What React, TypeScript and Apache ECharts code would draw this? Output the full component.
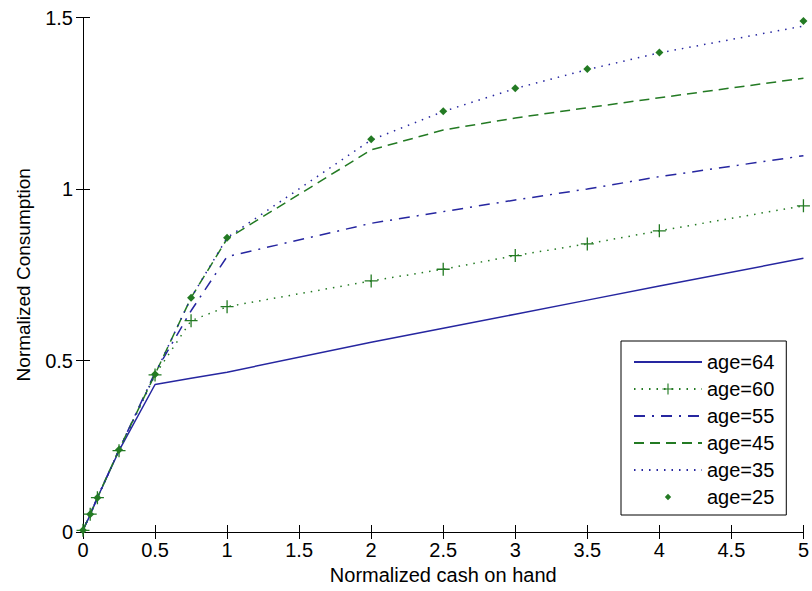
import React, { useEffect, useRef } from "react";
import * as echarts from "echarts";

const cashOnHand = [0, 0.05, 0.1, 0.25, 0.5, 0.75, 1, 2, 2.5, 3, 3.5, 4, 5];
const age64 = [0.005, 0.05, 0.1, 0.237, 0.43, 0.448, 0.466, 0.553, 0.594, 0.635, 0.676, 0.717, 0.798];
const age60 = [0.005, 0.052, 0.1, 0.237, 0.458, 0.616, 0.657, 0.732, 0.766, 0.806, 0.84, 0.878, 0.951];
const age55 = [0.005, 0.052, 0.1, 0.24, 0.465, 0.645, 0.803, 0.9, 0.934, 0.968, 1.0, 1.036, 1.097];
const age45 = [0.005, 0.052, 0.1, 0.24, 0.46, 0.683, 0.855, 1.114, 1.172, 1.207, 1.237, 1.266, 1.323];
const age35 = [0.005, 0.052, 0.1, 0.24, 0.46, 0.683, 0.858, 1.143, 1.226, 1.293, 1.348, 1.397, 1.475];
const age25 = [0.005, 0.052, 0.1, 0.24, 0.46, 0.683, 0.858, 1.145, 1.227, 1.294, 1.35, 1.398, 1.49];
const seriesNames = ["age=64", "age=60", "age=55", "age=45", "age=35", "age=25"];

const BLUE = "#2626a0";
const GREEN = "#237a23";
const FONT = "'Liberation Sans', Arial, sans-serif";
const PLUS = "path://M9,0h2v9h9v2h-9v9h-2v-9h-9v-2h9z";
const DIAMOND = "path://M0,0M14,14M7,3L11,7L7,11L3,7Z";

const pairs = (ys: number[]) => cashOnHand.map((x, i) => [x, ys[i]]);

export default function App() {
  const ref = useRef<HTMLDivElement>(null);
  useEffect(() => {
    if (!ref.current) return;
    const chart = echarts.init(ref.current, undefined, { renderer: "svg" });
    const axisLine = { show: true, lineStyle: { color: "#000", width: 1 } };
    const tick = { show: true, inside: true, length: 7, lineStyle: { color: "#000" } };
    const base = {
      type: "line",
      showSymbol: false,
      symbol: "none",
      clip: false,
      xAxisIndex: 0,
      yAxisIndex: 0,
    };
    const hidden = { opacity: 0, color: "transparent", borderWidth: 0 };
    chart.setOption({
      animation: false,
      backgroundColor: "#fff",
      textStyle: { fontFamily: FONT },
      grid: { left: 83, right: 8, top: 17.5, bottom: 59, containLabel: false },
      xAxis: [
        {
          type: "value",
          position: "bottom",
          min: 0,
          max: 5,
          interval: 0.5,
          axisLine,
          axisTick: tick,
          splitLine: { show: false },
          axisLabel: { color: "#000", fontSize: 20, margin: 8, fontFamily: FONT },
          name: "Normalized cash on hand",
          nameLocation: "middle",
          nameGap: 26,
          nameTextStyle: { color: "#000", fontSize: 20, fontFamily: FONT },
        },
        {
          type: "value",
          position: "top",
          min: 0,
          max: 5,
          interval: 0.5,
          axisLine,
          axisTick: tick,
          splitLine: { show: false },
          axisLabel: { show: false },
        },
      ],
      yAxis: [
        {
          type: "value",
          position: "left",
          min: 0,
          max: 1.5,
          interval: 0.5,
          axisLine,
          axisTick: tick,
          splitLine: { show: false },
          axisLabel: { color: "#000", fontSize: 20, margin: 10, fontFamily: FONT },
          name: "Normalized Consumption",
          nameLocation: "middle",
          nameGap: 50,
          nameTextStyle: { color: "#000", fontSize: 19, fontFamily: FONT },
        },
        {
          type: "value",
          position: "right",
          min: 0,
          max: 1.5,
          interval: 0.5,
          axisLine,
          axisTick: tick,
          splitLine: { show: false },
          axisLabel: { show: false },
        },
      ],
      legend: {
        orient: "vertical",
        left: 621,
        top: 341,
        data: [
          { name: seriesNames[0], itemStyle: hidden },
          { name: seriesNames[1] },
          { name: seriesNames[2], itemStyle: hidden },
          { name: seriesNames[3], itemStyle: hidden },
          { name: seriesNames[4], itemStyle: hidden },
          { name: seriesNames[5], lineStyle: { opacity: 0, width: 0 } },
        ],
        itemWidth: 68,
        itemHeight: 14,
        itemGap: 7,
        padding: [11, 12, 8, 12],
        borderColor: "#000",
        borderWidth: 1,
        backgroundColor: "#fff",
        textStyle: { color: "#000", fontSize: 20, fontFamily: FONT },
        selectedMode: false,
      },
      series: [
        {
          ...base,
          name: seriesNames[0],
          data: pairs(age64),
          itemStyle: { color: BLUE },
          lineStyle: { color: BLUE, width: 1.5, type: "solid" },
        },
        {
          ...base,
          name: seriesNames[1],
          data: pairs(age60),
          showSymbol: true,
          symbol: PLUS,
          symbolSize: 13,
          itemStyle: { color: GREEN },
          lineStyle: { color: GREEN, width: 1.5, type: [1.5, 6] },
        },
        {
          ...base,
          name: seriesNames[2],
          data: pairs(age55),
          itemStyle: { color: BLUE },
          lineStyle: { color: BLUE, width: 1.5, type: [11, 7, 2, 7] },
        },
        {
          ...base,
          name: seriesNames[3],
          data: pairs(age45),
          itemStyle: { color: GREEN },
          lineStyle: { color: GREEN, width: 1.5, type: [10, 6] },
        },
        {
          ...base,
          name: seriesNames[4],
          data: pairs(age35),
          itemStyle: { color: BLUE },
          lineStyle: { color: BLUE, width: 1.5, type: [1.5, 6] },
        },
        {
          ...base,
          name: seriesNames[5],
          data: pairs(age25),
          showSymbol: true,
          symbol: DIAMOND,
          symbolSize: 14,
          itemStyle: { color: GREEN },
          lineStyle: { opacity: 0, width: 0 },
        },
      ],
    });
    return () => chart.dispose();
  }, []);
  return (
    <div
      ref={ref}
      style={{ position: "fixed", left: 0, top: 0, width: 812, height: 591, background: "#fff" }}
    />
  );
}
